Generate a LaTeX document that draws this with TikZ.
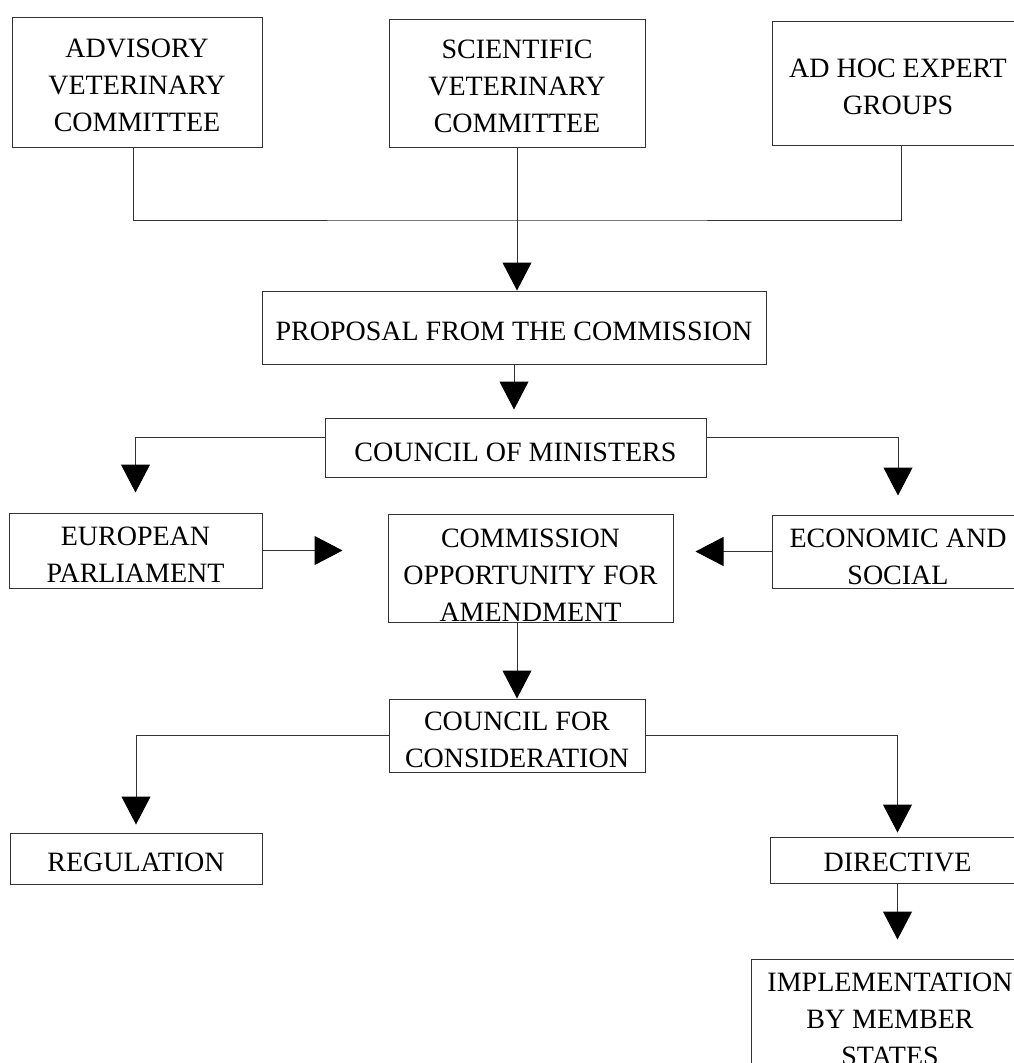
\documentclass[tikz,border=0pt]{standalone}
\usepackage{fontspec}
\setmainfont{Liberation Serif}
\usetikzlibrary{arrows.meta}

\tikzset{
  caja/.style={draw=black!80, line width=1pt, inner sep=0pt},
  texto/.style={inner sep=0pt, align=center, font=\fontsize{28}{37}\selectfont},
  linea/.style={draw=black!80, line width=1pt},
  flecha/.style={linea, ->},
}

\begin{document}
\begin{tikzpicture}[x=1pt, y=-1pt, >={Triangle[length=28pt, width=29pt, color=black]}]
    \useasboundingbox (0,0) rectangle (1014,1063);
    \clip (0,0) rectangle (1014,1063);

    % Comités que asesoran a la Comisión
    \node[caja, minimum width=250pt, minimum height=130pt] (adv) at (137,82) {};
    \node[texto] (advT) at (137,85.5) {ADVISORY\\VETERINARY\\COMMITTEE};
    \node[caja, minimum width=256pt, minimum height=128pt] (sci) at (517,83) {};
    \node[texto] (sciT) at (517,86.5) {SCIENTIFIC\\VETERINARY\\COMMITTEE};
    \node[caja, minimum width=252pt, minimum height=124pt] (adhoc) at (898,83) {};
    \node[texto] (adhocT) at (898,87) {AD HOC EXPERT\\GROUPS};

    % Propuesta y Consejo
    \node[caja, minimum width=504pt, minimum height=73pt] (prop) at (514,327.5) {};
    \node[texto] (propT) at (514,331) {PROPOSAL FROM THE COMMISSION};
    \node[caja, minimum width=381pt, minimum height=59pt] (cm) at (515.5,447.5) {};
    \node[texto] (cmT) at (515.5,452) {COUNCIL OF MINISTERS};

    % Consultas y enmienda
    \node[caja, minimum width=253pt, minimum height=75pt] (ep) at (135.5,550.5) {};
    \node[texto] (epT) at (135.5,555) {EUROPEAN\\PARLIAMENT};
    \node[caja, minimum width=285pt, minimum height=108pt] (com) at (530.5,568) {};
    \node[texto] (comT) at (530.5,575) {COMMISSION\\OPPORTUNITY FOR\\AMENDMENT};
    \node[caja, minimum width=252pt, minimum height=73pt] (esc) at (898,551.5) {};
    \node[texto] (escT) at (898,556.5) {ECONOMIC AND\\SOCIAL};

    % Decisión final
    \node[caja, minimum width=256pt, minimum height=73pt] (cfc) at (517,735.5) {};
    \node[texto] (cfcT) at (517,740) {COUNCIL FOR\\CONSIDERATION};
    \node[caja, minimum width=252pt, minimum height=51pt] (reg) at (136,858.5) {};
    \node[texto] (regT) at (136,862) {REGULATION};
    \node[caja, minimum width=255pt, minimum height=46pt] (dir) at (897.5,860) {};
    \node[texto] (dirT) at (897.5,862) {DIRECTIVE};
    \node[caja, minimum width=278pt, minimum height=116pt] (imp) at (890,1017) {};
    \node[texto] (impT) at (890,1019) {IMPLEMENTATION\\BY MEMBER\\STATES};

    % Conectores
    \coordinate (union) at (517,220);
    \draw[linea] ([xshift=-4pt]adv.south) |- (union) -| ([xshift=3pt]adhoc.south);
    \draw[flecha] (sci.south) -- (sci.south |- prop.north);
    \draw[flecha, shorten >=8pt] (prop.south) -- (prop.south |- cm.north);
    \draw[flecha, shorten >=20pt] ([yshift=10pt]cm.west) -| (ep.north);
    \draw[flecha, shorten >=19pt] ([yshift=10pt]cm.east) -| (esc.north);
    \draw[flecha, shorten >=45pt] (ep.east) -- (ep.east -| com.west);
    \draw[flecha, shorten >=22pt] (esc.west) -- (esc.west -| com.east);
    \draw[flecha] (com.south -| cfc.north) -- (cfc.north);
    \draw[flecha, shorten >=8pt] (cfc.west) -| (reg.north);
    \draw[flecha, shorten >=4pt] (cfc.east) -| (dir.north);
    \draw[flecha, shorten >=19pt] (dir.south) -- (dir.south |- imp.north);
\end{tikzpicture}
\end{document}
